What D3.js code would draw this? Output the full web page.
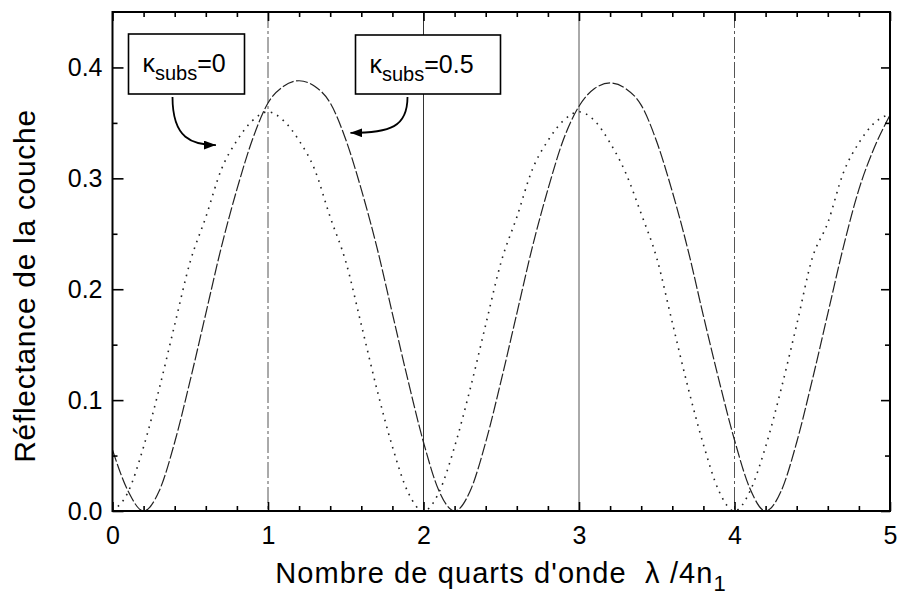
<!DOCTYPE html>
<meta charset="utf-8">
<style>

body {
  margin: 0;
  background: #fff;
}

svg {
  font-family: "Liberation Sans", Arial, sans-serif;
}

.axis path {
  display: none;
}

.axis line {
  stroke: #000;
  stroke-width: 1.6;
}

.axis text {
  font-size: 25px;
  fill: #000;
}

.frame {
  fill: none;
  stroke: #000;
  stroke-width: 2;
}

.marker-line {
  stroke: #555;
  stroke-width: 1;
}

.curve {
  fill: none;
  stroke: #222;
}

.note rect {
  fill: #fff;
  stroke: #000;
  stroke-width: 1.6;
}

.note text {
  font-size: 25px;
}

.arrow {
  fill: none;
  stroke: #000;
  stroke-width: 1.8;
}

</style>
<body>
<svg width="897" height="600"></svg>

<script src="https://d3js.org/d3.v7.min.js"></script>
<script>

// thickness in quarter waves (lambda / 4 n1)
var quarterWaves = [
  0.0, 0.1, 0.2, 0.3, 0.4, 0.5, 0.6, 0.7, 0.8, 0.9,
  1.0, 1.1, 1.2, 1.3, 1.4, 1.5, 1.6, 1.7, 1.8, 1.9,
  2.0, 2.1, 2.2, 2.3, 2.4, 2.5, 2.6, 2.7, 2.8, 2.9,
  3.0, 3.1, 3.2, 3.3, 3.4, 3.5, 3.6, 3.7, 3.8, 3.9,
  4.0, 4.1, 4.2, 4.3, 4.4, 4.5, 4.6, 4.7, 4.8, 4.9,
  5.0
];

// reflectance, kappa_subs = 0 (dotted)
var reflKappa0 = [
  0.000, 0.017, 0.058, 0.110, 0.168, 0.225, 0.265, 0.308, 0.334, 0.352,
  0.360, 0.352, 0.334, 0.308, 0.265, 0.225, 0.168, 0.110, 0.058, 0.017,
  0.000, 0.017, 0.058, 0.110, 0.168, 0.225, 0.265, 0.308, 0.334, 0.352,
  0.360, 0.352, 0.332, 0.305, 0.268, 0.228, 0.170, 0.112, 0.060, 0.018,
  0.000, 0.018, 0.058, 0.110, 0.168, 0.228, 0.260, 0.305, 0.332, 0.350,
  0.358
];

// reflectance, kappa_subs = 0.5 (dashed)
var reflKappa05 = [
  0.055, 0.018, 0.000, 0.018, 0.062, 0.118, 0.178, 0.238, 0.290, 0.335,
  0.368, 0.383, 0.388, 0.383, 0.368, 0.335, 0.290, 0.238, 0.178, 0.118,
  0.062, 0.018, 0.000, 0.018, 0.062, 0.118, 0.178, 0.238, 0.290, 0.335,
  0.365, 0.381, 0.386, 0.381, 0.366, 0.333, 0.288, 0.236, 0.176, 0.118,
  0.064, 0.020, 0.000, 0.018, 0.062, 0.118, 0.178, 0.238, 0.290, 0.328,
  0.357
];

var markerPositions = [1, 2, 3, 4];

var xMajorTicks = [0, 1, 2, 3, 4, 5];
var xMinorTicks = [0.2, 0.4, 0.6, 0.8, 1.2, 1.4, 1.6, 1.8, 2.2, 2.4, 2.6, 2.8,
                   3.2, 3.4, 3.6, 3.8, 4.2, 4.4, 4.6, 4.8];
var yMajorTicks = [0, 0.1, 0.2, 0.3, 0.4];
var yMinorTicks = [0.05, 0.15, 0.25, 0.35];

var svg = d3.select("svg"),
    margin = {top: 12, right: 7, bottom: 89, left: 112.5},
    width = +svg.attr("width") - margin.left - margin.right,
    height = +svg.attr("height") - margin.top - margin.bottom;

var x = d3.scaleLinear().domain([0, 5]).range([0, width]);
var y = d3.scaleLinear().domain([0, 0.45]).range([height, 0]);

var g = svg.append("g")
    .attr("transform", "translate(" + margin.left + "," + margin.top + ")");

// vertical guide lines at whole quarter waves
g.selectAll(".marker-line")
  .data(markerPositions)
  .enter().append("line")
    .attr("class", "marker-line")
    .attr("x1", function(d) { return x(d); })
    .attr("x2", function(d) { return x(d); })
    .attr("y1", 0)
    .attr("y2", height)
    .style("stroke", function(d) { return d === 2 ? "#333" : null; })
    .style("stroke-dasharray", function(d) { return (d === 1 || d === 4) ? "16,3,3,3" : null; });

var line = d3.line()
    .curve(d3.curveMonotoneX)
    .x(function(d) { return x(d[0]); })
    .y(function(d) { return y(d[1]); });

g.append("path")
    .attr("class", "curve")
    .attr("d", line(d3.zip(quarterWaves, reflKappa0)))
    .style("stroke-width", 1.6)
    .style("stroke-dasharray", "1.6,5.5");

g.append("path")
    .attr("class", "curve")
    .attr("d", line(d3.zip(quarterWaves, reflKappa05)))
    .style("stroke-width", 1.2)
    .style("stroke-dasharray", "12,2.5");

// axes, ticks pointing inward on all four sides
var fmtY = d3.format(".1f");

g.append("g")
    .attr("class", "axis")
    .attr("transform", "translate(0," + height + ")")
    .call(d3.axisBottom(x).tickValues(xMajorTicks).tickSize(-9).tickPadding(15).tickFormat(d3.format("d")));

g.append("g")
    .attr("class", "axis")
    .attr("transform", "translate(0," + height + ")")
    .call(d3.axisBottom(x).tickValues(xMinorTicks).tickSize(-5).tickFormat(""));

g.append("g")
    .attr("class", "axis")
    .call(d3.axisTop(x).tickValues(xMajorTicks).tickSize(-9).tickFormat(""));

g.append("g")
    .attr("class", "axis")
    .call(d3.axisTop(x).tickValues(xMinorTicks).tickSize(-5).tickFormat(""));

g.append("g")
    .attr("class", "axis")
    .call(d3.axisLeft(y).tickValues(yMajorTicks).tickSize(-11).tickPadding(10).tickFormat(fmtY));

g.append("g")
    .attr("class", "axis")
    .call(d3.axisLeft(y).tickValues(yMinorTicks).tickSize(-5).tickFormat(""));

g.append("g")
    .attr("class", "axis")
    .attr("transform", "translate(" + width + ",0)")
    .call(d3.axisRight(y).tickValues(yMajorTicks).tickSize(-9).tickFormat(""));

g.append("g")
    .attr("class", "axis")
    .attr("transform", "translate(" + width + ",0)")
    .call(d3.axisRight(y).tickValues(yMinorTicks).tickSize(-5).tickFormat(""));

g.append("rect")
    .attr("class", "frame")
    .attr("width", width)
    .attr("height", height);

// axis titles
var xTitle = svg.append("text")
    .attr("x", 501)
    .attr("y", 583)
    .attr("text-anchor", "middle")
    .style("font-size", "29px")
    .style("letter-spacing", "1.1px");
xTitle.append("tspan").text("Nombre de quarts d'onde \u00a0\u03bb /4n");
xTitle.append("tspan").attr("dy", 8).style("font-size", "22px").text("1");

svg.append("text")
    .attr("transform", "translate(35,286) rotate(-90)")
    .attr("text-anchor", "middle")
    .style("font-size", "30px")
    .style("letter-spacing", "0.7px")
    .text("R\u00e9flectance de la couche");

// annotation boxes with arrows
svg.append("defs").append("marker")
    .attr("id", "head")
    .attr("markerUnits", "userSpaceOnUse")
    .attr("markerWidth", 13)
    .attr("markerHeight", 9)
    .attr("refX", 12)
    .attr("refY", 4.5)
    .attr("orient", "auto")
  .append("path")
    .attr("d", "M0,0L12,4.5L0,9Z")
    .attr("fill", "#000");

function note(left, top, w, h, value, tip, bend) {
  var n = g.append("g").attr("class", "note");
  n.append("rect")
      .attr("x", left)
      .attr("y", top)
      .attr("width", w)
      .attr("height", h);
  var t = n.append("text")
      .attr("x", left + 14)
      .attr("y", top + 38);
  t.append("tspan").text("\u03ba");
  t.append("tspan").attr("dy", 8).style("font-size", "20px").text("subs");
  t.append("tspan").attr("dy", -8).text(value);

  var sx = bend[0], sy = top + h + 3,
      tx = x(tip[0]), ty = y(tip[1]);
  g.append("path")
      .attr("class", "arrow")
      .attr("marker-end", "url(#head)")
      .attr("d", "M" + sx + "," + sy +
                 "C" + sx + "," + (ty - 6) + " " + bend[1] + "," + ty + " " + tx + "," + ty);
}

note(16, 22, 116, 60, "=0", [0.665, 0.33], [60, 80]);
note(243, 23, 145, 59, "=0.5", [1.53, 0.341], [295, 278]);

</script>
</body>
